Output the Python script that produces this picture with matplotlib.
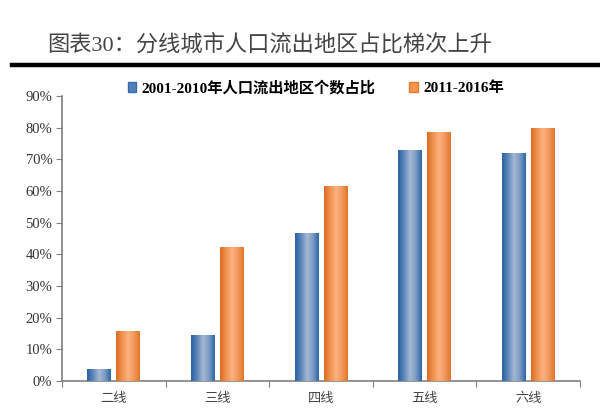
import numpy as np
import matplotlib
matplotlib.use("Agg")
import matplotlib.pyplot as plt
from matplotlib.colors import LinearSegmentedColormap
from matplotlib.lines import Line2D
from matplotlib.patches import Patch

categories = ["二线", "三线", "四线", "五线", "六线"]
series_names = ["2001-2010年人口流出地区个数占比", "2011-2016年"]
s1 = [3.7, 14.4, 46.7, 72.9, 72.1]
s2 = [15.9, 42.3, 61.6, 78.7, 80.0]
yticks = [0, 10, 20, 30, 40, 50, 60, 70, 80, 90]
title = "图表30：分线城市人口流出地区占比梯次上升"

SERIF = ["Liberation Serif", "Noto Sans CJK SC"]
plt.rcParams["font.family"] = SERIF

fig = plt.figure(figsize=(6.0, 4.08), dpi=100)
ax = fig.add_axes([62/600, 1-381/408, 518/600, 285/408])

x = np.arange(len(categories))
w = 0.23
gap = 0.05
b1 = ax.bar(x - (w+gap)/2, s1, w, color="#4F81BD", zorder=2)
b2 = ax.bar(x + (w+gap)/2, s2, w, color="#F79646", zorder=2)

cm_blue = LinearSegmentedColormap.from_list("b", ["#2A62A6", "#5C86BA", "#A3B8D2", "#7E9CC4", "#2E66A8"])
cm_or = LinearSegmentedColormap.from_list("o", ["#D86C28", "#F0924F", "#FBB282", "#F29A5A", "#DE7631"])
grad = np.linspace(0, 1, 64).reshape(1, -1)
for bars, cm in ((b1, cm_blue), (b2, cm_or)):
    for r in bars:
        x0, x1 = r.get_x(), r.get_x() + r.get_width()
        im = ax.imshow(grad, extent=[x0, x1, 0, r.get_height()], aspect="auto",
                       cmap=cm, zorder=3, interpolation="bilinear")
        im.set_clip_path(r)

ax.set_xlim(-0.5, len(categories) - 0.5)
ax.set_ylim(0, 90)
ax.set_yticks(yticks)
ax.set_yticklabels([f"{v}%" for v in yticks], fontsize=10.5, color="#333333")
ax.set_xticks(np.arange(len(categories) + 1) - 0.5)
ax.set_xticklabels([])
ax.set_xticks(x, minor=True)
ax.set_xticklabels(categories, minor=True, fontsize=9.5, color="#444444",
                   family=["Noto Sans CJK SC"], weight="light")
ax.tick_params(axis="x", which="minor", length=0, pad=8)
ax.tick_params(axis="x", which="major", length=4, direction="out", color="#808080")
ax.tick_params(axis="y", length=4, direction="out", color="#808080", pad=3)
for s in ("top", "right"):
    ax.spines[s].set_visible(False)
for s in ("left", "bottom"):
    ax.spines[s].set_color("#808080")
    ax.spines[s].set_linewidth(1.2)

handles = [Patch(facecolor="#4F81BD", edgecolor="#3A6BA6"),
           Patch(facecolor="#F79646", edgecolor="#E07B35")]
leg = fig.legend(handles, series_names, loc="center", bbox_to_anchor=(316/600, 1-88/408),
                 ncol=2, frameon=False, handlelength=0.55, handleheight=0.55,
                 handletextpad=0.35, columnspacing=2.2,
                 prop={"family": SERIF, "weight": "bold", "size": 11})

fig.text(270/600, 1-45/408, title, ha="center", va="center", fontsize=16,
         color="#444444", family=["Liberation Serif", "Noto Sans CJK SC"], weight="light")
fig.add_artist(Line2D([12/600, 1.0], [1-65/408, 1-65/408], lw=3.2, color="black"))

fig.savefig("out.png", dpi=100)
